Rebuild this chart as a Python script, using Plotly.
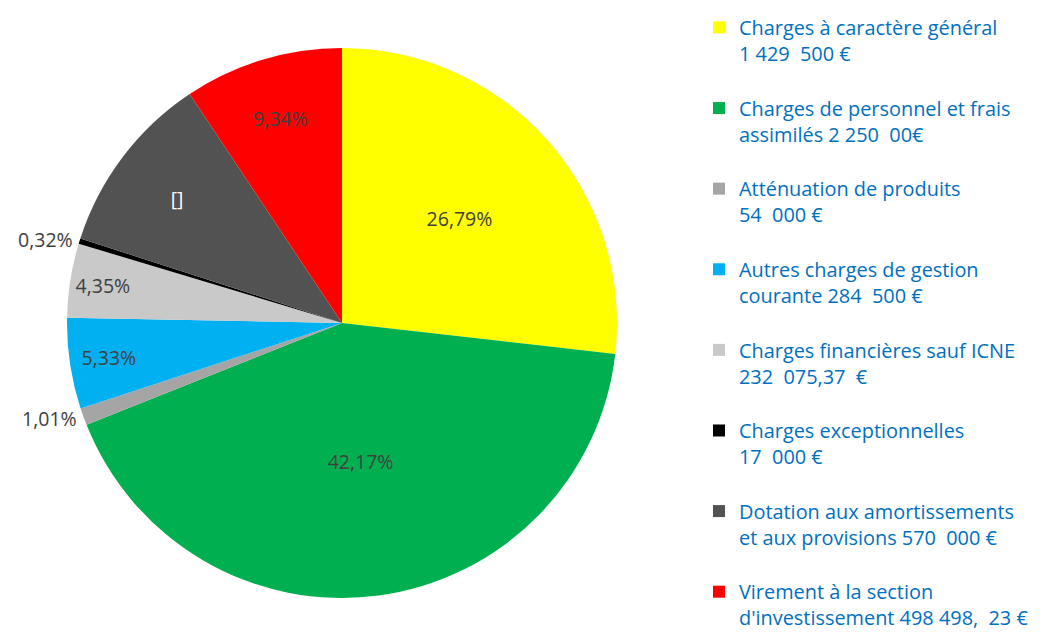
import plotly.graph_objects as go

categories = [
    "Charges à caractère général<br>1 429  500 €<br> ",
    "Charges de personnel et frais<br>assimilés 2 250  00€<br> ",
    "Atténuation de produits<br>54  000 €<br> ",
    "Autres charges de gestion<br>courante 284  500 €<br> ",
    "Charges financières sauf ICNE<br>232  075,37  €<br> ",
    "Charges exceptionnelles<br>17  000 €<br> ",
    "Dotation aux amortissements<br>et aux provisions 570  000 €<br> ",
    "Virement à la section<br>d'investissement 498 498,  23 €",
]
values = [1429500, 2250000, 54000, 284500, 232075.37, 17000, 570000, 498498.23]
slice_labels = ["26,79%", "42,17%", "1,01%", "5,33%", "4,35%", "0,32%", "[]", "9,34%"]
colors = ["#FFFF00", "#00B050", "#A5A5A5", "#00B0F0", "#C9C9C9", "#000000", "#525252", "#FF0000"]
text_colors = ["#404040", "#404040", "#404040", "#404040", "#404040", "#404040", "#FFFFFF", "#404040"]
text_pos = ["inside", "inside", "outside", "inside", "inside", "outside", "inside", "inside"]

W, H = 1043, 635
cx, cy, r = 334, 315, 275

fig = go.Figure(go.Pie(
    labels=categories,
    values=values,
    text=slice_labels,
    textinfo="text",
    textposition=text_pos,
    insidetextorientation="horizontal",
    textfont=dict(family="Open Sans, sans-serif", size=19.5, color=text_colors),
    outsidetextfont=dict(family="Open Sans, sans-serif", size=19.5, color="#404040"),
    marker=dict(colors=colors, line=dict(width=0)),
    sort=False,
    direction="clockwise",
    rotation=0,
    hole=0,
    domain=dict(x=[(cx - r) / W, (cx + r) / W], y=[(H - cy - r) / H, (H - cy + r) / H]),
    automargin=False,
))

fig.update_layout(
    width=W, height=H,
    margin=dict(l=0, r=0, t=0, b=0, autoexpand=False),
    paper_bgcolor="white",
    plot_bgcolor="white",
    showlegend=True,
    legend=dict(
        x=0.6625, y=1.0, xanchor="left", yanchor="top",
        font=dict(family="Open Sans, sans-serif", size=19.9, color="#0070C0"),
        valign="top",
        itemwidth=30,
        tracegroupgap=0,
    ),
)

fig.write_html("out.html")
